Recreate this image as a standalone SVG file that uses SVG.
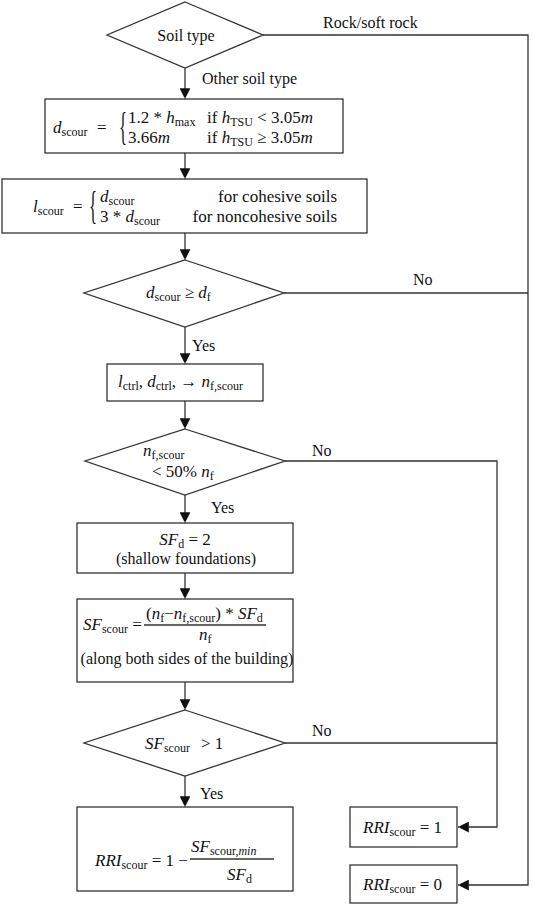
<svg xmlns="http://www.w3.org/2000/svg" width="533" height="907" viewBox="0 0 533 907">
<defs>
<marker id="ah" viewBox="0 0 10 12" refX="12" refY="6" markerWidth="9" markerHeight="11" markerUnits="userSpaceOnUse" orient="auto">
<path d="M0,0 L12,6 L0,12 Z" fill="#111"/>
</marker>
<style>
.shape{fill:#fff;stroke:#333;stroke-width:1.3}
.ln{fill:none;stroke:#333;stroke-width:1.3}
.arr{fill:none;stroke:#333;stroke-width:1.3;marker-end:url(#ah)}
text{font-family:"Liberation Serif","Times New Roman",serif;fill:#111}
.lb{font-size:16px}
.m{font-size:17px}
.i{font-style:italic}
.s{font-size:12px}
</style>
</defs>
<g id="connectors">
<path class="arr" d="M185,68 V99"/>
<path class="arr" d="M263,35 H528 V885 H458"/>
<path class="arr" d="M185,153 V179"/>
<path class="arr" d="M185,233 V260"/>
<path class="ln" d="M284,293 H528"/>
<path class="arr" d="M185,327 V364"/>
<path class="arr" d="M185,401 V429"/>
<path class="arr" d="M285,461 H497 V827 H458"/>
<path class="arr" d="M185,495 V523"/>
<path class="arr" d="M185,573 V599"/>
<path class="arr" d="M185,682 V710"/>
<path class="ln" d="M285,743 H497"/>
<path class="arr" d="M185,776 V807"/>
<text class="lb" x="323" y="28">Rock/soft rock</text>
<text class="lb" x="202" y="84">Other soil type</text>
<text class="lb" x="413" y="285">No</text>
<text class="lb" x="192" y="351">Yes</text>
<text class="lb" x="312" y="456">No</text>
<text class="lb" x="211" y="513">Yes</text>
<text class="lb" x="312" y="736">No</text>
<text class="lb" x="200" y="799">Yes</text>
</g>
<g id="soil-type">
<polygon class="shape" points="185,2 263,35 185,68 107,35"/>
<text class="lb" x="186" y="41" text-anchor="middle">Soil type</text>
</g>
<g id="d-scour">
<rect class="shape" x="45" y="99" width="298" height="54"/>
<text class="m" x="53" y="133"><tspan class="i">d</tspan><tspan class="s" dy="3">scour</tspan><tspan dy="-3" x="97">=</tspan></text>
<text transform="translate(119,140) scale(0.42,1)" font-size="40">{</text>
<text class="m" x="128" y="123">1.2 * <tspan class="i">h</tspan><tspan class="s" dy="3">max</tspan></text>
<text class="m" x="207" y="123">if <tspan class="i">h</tspan><tspan class="s" dy="3">TSU</tspan><tspan dy="-3"> &lt; 3.05</tspan><tspan class="i">m</tspan></text>
<text class="m" x="128" y="143">3.66<tspan class="i">m</tspan></text>
<text class="m" x="207" y="143">if <tspan class="i">h</tspan><tspan class="s" dy="3">TSU</tspan><tspan dy="-3"> ≥ 3.05</tspan><tspan class="i">m</tspan></text>
</g>
<g id="l-scour">
<rect class="shape" x="2" y="179" width="365" height="54"/>
<text class="m" x="33" y="212"><tspan class="i">l</tspan><tspan class="s" dy="3">scour</tspan><tspan dy="-3" x="73">=</tspan></text>
<text transform="translate(89,219) scale(0.42,1)" font-size="40">{</text>
<text class="m" x="100" y="202"><tspan class="i">d</tspan><tspan class="s" dy="3">scour</tspan></text>
<text class="m" x="100" y="222">3 * <tspan class="i">d</tspan><tspan class="s" dy="3">scour</tspan></text>
<text class="m" x="337" y="202" text-anchor="end">for cohesive soils</text>
<text class="m" x="337" y="222" text-anchor="end">for noncohesive soils</text>
</g>
<g id="depth-check">
<polygon class="shape" points="185,260 284,293 185,327 84,293"/>
<text class="m" x="146" y="298"><tspan class="i">d</tspan><tspan class="s" dy="3">scour</tspan><tspan dy="-3"> ≥ </tspan><tspan class="i">d</tspan><tspan class="s" dy="3">f</tspan></text>
</g>
<g id="ctrl">
<rect class="shape" x="107" y="364" width="156" height="37"/>
<text class="m" x="118" y="387"><tspan class="i">l</tspan><tspan class="s" dy="3">ctrl</tspan><tspan dy="-3">, </tspan><tspan class="i">d</tspan><tspan class="s" dy="3">ctrl</tspan><tspan dy="-3">, → </tspan><tspan class="i">n</tspan><tspan class="s" dy="3">f,scour</tspan></text>
</g>
<g id="nf-check">
<polygon class="shape" points="185,429 285,461 185,495 85,461"/>
<text class="m" x="143" y="456"><tspan class="i">n</tspan><tspan class="s" dy="3">f,scour</tspan></text>
<text class="m" x="152" y="477">&lt; 50% <tspan class="i">n</tspan><tspan class="s" dy="3">f</tspan></text>
</g>
<g id="sfd">
<rect class="shape" x="77" y="523" width="216" height="50"/>
<text class="m" x="185" y="545" text-anchor="middle"><tspan class="i">SF</tspan><tspan class="s" dy="3">d</tspan><tspan dy="-3"> = 2</tspan></text>
<text class="lb" x="186" y="564" text-anchor="middle">(shallow foundations)</text>
</g>
<g id="sf-scour">
<rect class="shape" x="77" y="599" width="216" height="83"/>
<text class="m" x="83" y="630"><tspan class="i">SF</tspan><tspan class="s" dy="3">scour</tspan><tspan dy="-3"> =</tspan></text>
<text class="m" x="146" y="619"><tspan>(</tspan><tspan class="i">n</tspan><tspan class="s" dy="3">f</tspan><tspan dy="-3">−</tspan><tspan class="i">n</tspan><tspan class="s" dy="3">f,scour</tspan><tspan dy="-3">) * </tspan><tspan class="i">SF</tspan><tspan class="s" dy="3">d</tspan></text>
<line class="ln" x1="144" y1="625" x2="266" y2="625"/>
<text class="m" x="199" y="640"><tspan class="i">n</tspan><tspan class="s" dy="3">f</tspan></text>
<text class="lb" x="187" y="664" text-anchor="middle">(along both sides of the building)</text>
</g>
<g id="sf-check">
<polygon class="shape" points="185,710 285,743 185,776 84,743"/>
<text class="m" x="145" y="749"><tspan class="i">SF</tspan><tspan class="s" dy="3">scour</tspan><tspan dy="-3" x="201">&gt; 1</tspan></text>
</g>
<g id="rri-formula">
<rect class="shape" x="77" y="807" width="216" height="84"/>
<text class="m" x="95" y="866"><tspan class="i">RRI</tspan><tspan class="s" dy="3">scour</tspan><tspan dy="-3"> = 1 − </tspan></text>
<text class="m" x="191" y="852"><tspan class="i">SF</tspan><tspan class="s" dy="3">scour,<tspan class="i">min</tspan></tspan></text>
<line class="ln" x1="190" y1="859" x2="274" y2="859"/>
<text class="m" x="227" y="880"><tspan class="i">SF</tspan><tspan class="s" dy="3">d</tspan></text>
</g>
<g id="rri-1">
<rect class="shape" x="350" y="807" width="107" height="40"/>
<text class="m" x="363" y="833"><tspan class="i">RRI</tspan><tspan class="s" dy="3">scour</tspan><tspan dy="-3"> = 1</tspan></text>
</g>
<g id="rri-0">
<rect class="shape" x="350" y="865" width="107" height="38"/>
<text class="m" x="363" y="890"><tspan class="i">RRI</tspan><tspan class="s" dy="3">scour</tspan><tspan dy="-3"> = 0</tspan></text>
</g>
</svg>
